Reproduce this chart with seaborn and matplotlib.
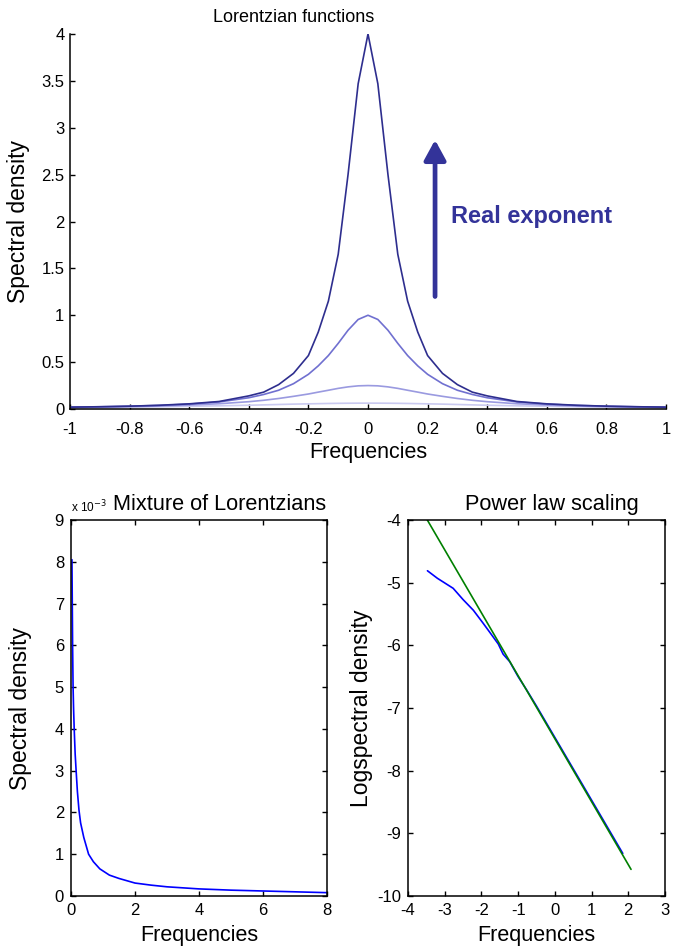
import numpy as np
import pandas as pd
import matplotlib
matplotlib.use("Agg")
import matplotlib.pyplot as plt
from matplotlib.ticker import FixedLocator, FuncFormatter
import seaborn as sns

# ---- Lorentzian spectral densities (frequency grid, symmetric about 0) ----
freq = [-1.0, -0.9, -0.8, -0.7, -0.6, -0.5, -0.4, -0.35, -0.3, -0.25, -0.2,
        -0.167, -0.133, -0.1, -0.067, -0.033, 0.0, 0.033, 0.067, 0.1, 0.133,
        0.167, 0.2, 0.25, 0.3, 0.35, 0.4, 0.5, 0.6, 0.7, 0.8, 0.9, 1.0]

lor_peak4 = [0.02, 0.024, 0.03, 0.04, 0.055, 0.08, 0.14, 0.18, 0.26, 0.38, 0.57,
             0.82, 1.15, 1.65, 2.5, 3.47, 4.0, 3.47, 2.5, 1.65, 1.15,
             0.82, 0.57, 0.38, 0.26, 0.18, 0.14, 0.08, 0.055, 0.04, 0.03, 0.024, 0.02]
lor_peak1 = [0.019, 0.024, 0.03, 0.038, 0.052, 0.075, 0.12, 0.155, 0.2, 0.27, 0.37,
             0.46, 0.57, 0.70, 0.84, 0.955, 1.0, 0.955, 0.84, 0.70, 0.57,
             0.46, 0.37, 0.27, 0.2, 0.155, 0.12, 0.075, 0.052, 0.038, 0.03, 0.024, 0.019]
lor_peak025 = [0.017, 0.021, 0.026, 0.032, 0.042, 0.056, 0.078, 0.093, 0.112, 0.135, 0.16,
               0.18, 0.20, 0.22, 0.236, 0.247, 0.25, 0.247, 0.236, 0.22, 0.20,
               0.18, 0.16, 0.135, 0.112, 0.093, 0.078, 0.056, 0.042, 0.032, 0.026, 0.021, 0.017]
lor_peak006 = [0.0145, 0.017, 0.020, 0.024, 0.029, 0.034, 0.040, 0.044, 0.048, 0.052, 0.055,
               0.057, 0.059, 0.0605, 0.0616, 0.0623, 0.0625, 0.0623, 0.0616, 0.0605, 0.059,
               0.057, 0.055, 0.052, 0.048, 0.044, 0.040, 0.034, 0.029, 0.024, 0.020, 0.017, 0.0145]
lor_colors = ["#CACAF0", "#9A9AE0", "#7070D0", "#2E2E8E"]

# ---- Mixture of Lorentzians ----
mix_freq = [0.03, 0.05, 0.065, 0.08, 0.1, 0.13, 0.16, 0.2, 0.25, 0.3, 0.4, 0.55,
            0.7, 0.9, 1.2, 1.5, 2.0, 2.5, 3.0, 4.0, 5.0, 6.0, 7.0, 8.0]
mix_density = [8.05e-3, 6.0e-3, 5.0e-3, 4.5e-3, 4.0e-3, 3.4e-3, 3.0e-3, 2.5e-3,
               2.05e-3, 1.75e-3, 1.4e-3, 1.0e-3, 0.82e-3, 0.65e-3, 0.5e-3, 0.42e-3,
               0.31e-3, 0.26e-3, 0.22e-3, 0.17e-3, 0.14e-3, 0.12e-3, 0.10e-3, 0.08e-3]

# ---- Power law scaling (log-log) ----
log_freq = [-3.47, -3.2, -2.77, -2.5, -2.22, -1.95, -1.75, -1.54, -1.41, -1.23,
            -1.0, -0.77, -0.5, 0.0, 0.5, 1.0, 1.5, 1.85]
log_density = [-4.81, -4.93, -5.09, -5.27, -5.44, -5.65, -5.81, -5.98, -6.14, -6.26,
               -6.50, -6.71, -6.97, -7.47, -7.97, -8.47, -8.97, -9.32]
fit_freq = [-3.474, 2.075]
fit_logdensity = [-4.0, -9.575]

sns.set_style("ticks")
plt.rcParams["font.family"] = ["Liberation Sans", "DejaVu Sans"]
plt.rcParams["axes.unicode_minus"] = False
plt.rcParams["axes.linewidth"] = 1.1
plt.rcParams["xtick.direction"] = "in"
plt.rcParams["ytick.direction"] = "in"
plt.rcParams["xtick.major.size"] = 3.5
plt.rcParams["ytick.major.size"] = 3.5
plt.rcParams["xtick.major.width"] = 1.0
plt.rcParams["ytick.major.width"] = 1.0
plt.rcParams["xtick.labelsize"] = 12
plt.rcParams["ytick.labelsize"] = 12
plt.rcParams["xtick.color"] = "black"
plt.rcParams["ytick.color"] = "black"
plt.rcParams["axes.edgecolor"] = "black"
plt.rcParams["axes.labelcolor"] = "black"
plt.rcParams["text.color"] = "black"

W, H = 682, 949
fig = plt.figure(figsize=(W / 100, H / 100), dpi=100)


def px_axes(l, t, r, b):
    return fig.add_axes([l / W, 1 - b / H, (r - l) / W, (b - t) / H])


xlabel_fs = 15.5
ylabel_fs = 16.5
title_fs = 15.7

# ---------------- Top: Lorentzian functions ----------------
ax1 = px_axes(70, 34, 666, 409)
for vals, col in zip([lor_peak006, lor_peak025, lor_peak1, lor_peak4], lor_colors):
    sns.lineplot(x=freq, y=vals, ax=ax1, color=col, lw=1.2, sort=False,
                 estimator=None)
ax1.set_xlim(-1, 1)
ax1.set_ylim(0, 4)
ax1.xaxis.set_major_locator(FixedLocator(np.round(np.arange(-1, 1.01, 0.2), 1)))
ax1.yaxis.set_major_locator(FixedLocator(np.arange(0, 4.01, 0.5)))
ax1.xaxis.set_major_formatter(FuncFormatter(lambda v, p: f"{v:g}" if abs(v) > 1e-9 else "0"))
ax1.yaxis.set_major_formatter(FuncFormatter(lambda v, p: f"{v:g}"))
sns.despine(ax=ax1)
ax1.tick_params(axis="x", pad=9)
ax1.tick_params(axis="y", pad=4)
ax1.set_xlabel("Frequencies", fontsize=xlabel_fs)
ax1.set_ylabel("Spectral density", fontsize=ylabel_fs)
ax1.xaxis.set_label_coords(0.5, -0.088)
ax1.yaxis.set_label_coords(-0.067, 0.5)
ax1.set_title("Lorentzian functions", fontsize=13, x=0.376, pad=9)
arrow_col = "#333399"
ax1.annotate("", xy=(0.225, 2.87), xytext=(0.225, 1.2),
             arrowprops=dict(arrowstyle="-|>,head_length=0.55,head_width=0.3",
                             lw=3.4, color=arrow_col, shrinkA=0, shrinkB=0,
                             mutation_scale=22))
ax1.text(0.28, 2.05, "Real exponent", fontsize=17, fontweight="bold",
         color=arrow_col, ha="left", va="center")

# ---------------- Bottom left: Mixture of Lorentzians ----------------
ax2 = px_axes(71, 520, 327, 896)
sns.lineplot(x=mix_freq, y=mix_density, ax=ax2, color="#0000FF", lw=1.2,
             sort=False, estimator=None)
ax2.set_xlim(0, 8)
ax2.set_ylim(0, 9e-3)
ax2.xaxis.set_major_locator(FixedLocator([0, 2, 4, 6, 8]))
ax2.yaxis.set_major_locator(FixedLocator(np.arange(0, 10) * 1e-3))
ax2.yaxis.set_major_formatter(FuncFormatter(lambda v, p: f"{v * 1e3:.0f}"))
ax2.tick_params(top=True, right=True, pad=5)
ax2.set_xlabel("Frequencies", fontsize=xlabel_fs)
ax2.set_ylabel("Spectral density", fontsize=ylabel_fs)
ax2.xaxis.set_label_coords(0.5, -0.077)
ax2.yaxis.set_label_coords(-0.152, 0.5)
ax2.set_title("Mixture of Lorentzians", fontsize=title_fs, x=0.58, pad=7)
ax2.text(0.0, 1.012, r"x 10$^{-3}$", transform=ax2.transAxes, fontsize=8.5,
         ha="left", va="bottom")

# ---------------- Bottom right: Power law scaling ----------------
ax3 = px_axes(408, 520, 665, 896)
sns.lineplot(x=log_freq, y=log_density, ax=ax3, color="#0000FF", lw=1.2,
             sort=False, estimator=None)
sns.lineplot(x=fit_freq, y=fit_logdensity, ax=ax3, color="#008000", lw=1.2,
             sort=False, estimator=None)
ax3.set_xlim(-4, 3)
ax3.set_ylim(-10, -4)
ax3.xaxis.set_major_locator(FixedLocator(np.arange(-4, 4)))
ax3.yaxis.set_major_locator(FixedLocator(np.arange(-10, -3)))
ax3.tick_params(top=True, right=True, pad=5)
ax3.set_xlabel("Frequencies", fontsize=xlabel_fs)
ax3.set_ylabel("Logspectral density", fontsize=ylabel_fs)
ax3.xaxis.set_label_coords(0.5, -0.077)
ax3.yaxis.set_label_coords(-0.136, 0.5)
ax3.set_title("Power law scaling", fontsize=title_fs, x=0.56, pad=7)

for ax in (ax1, ax2, ax3):
    ax.set_facecolor("white")

fig.savefig("out.png", dpi=100, facecolor="white")
